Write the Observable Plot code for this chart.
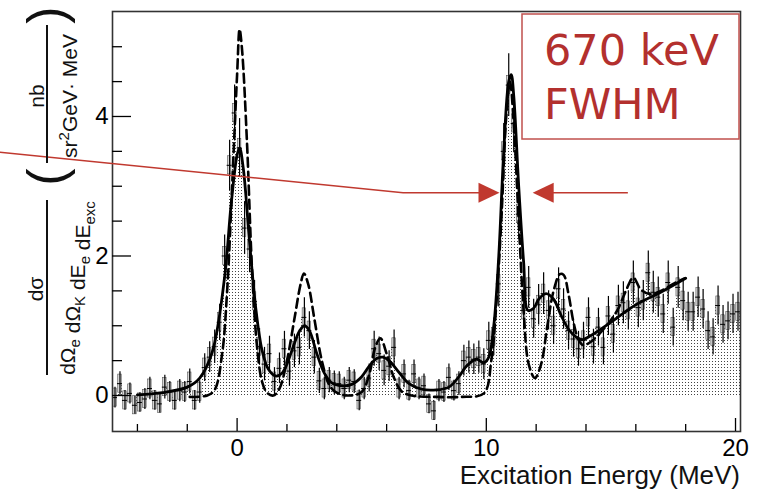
<!DOCTYPE html>
<html><head><meta charset="utf-8">
<script src="https://cdn.jsdelivr.net/npm/d3@7"></script>
<script src="https://cdn.jsdelivr.net/npm/@observablehq/plot@0.6"></script>
<style>
body{margin:0;background:#fff;}
#chart{width:760px;height:495px;}
</style>
</head><body><div id="chart"></div>
<script>
// ---- histogram (0.2 MeV bins starting at -5 MeV) ----
const binStart = -5;
const binWidth = 0.2;
const counts = [
 -0.03, 0.17, -0.07, 0.03, -0.14, -0.10, -0.05, 0.10, -0.07, -0.12,
  0.12, 0.05, -0.07, 0.07, 0.05, 0.20, -0.07, 0.05, 0.40, 0.55,
  0.70, 1.05, 2.00, 3.30, 4.05, 3.55, 2.40, 2.10, 1.35, 0.70,
  0.45, 0.60, 0.20, 0.39, 0.67, 0.35, 0.64, 0.69, 1.12, 0.93,
  0.55, 0.21, 0.10, 0.22, 0.18, 0.17, 0.10, 0.22, 0.20, -0.07,
  0.10, 0.25, 0.67, 0.60, 0.36, 0.42, 0.69, 0.10, 0.31, 0.07,
  0.31, 0.10, 0.14, -0.12, -0.22, 0.07, 0.05, 0.26, 0.07, 0.17,
  0.50, 0.55, 0.52, 0.55, 0.45, 0.79, 0.84, 1.60, 3.50, 4.45,
  3.90, 2.60, 1.22, 1.55, 1.10, 1.30, 1.46, 1.22, 1.00, 1.53,
  1.24, 0.93, 0.81, 0.67, 0.79, 1.12, 0.70, 0.98, 0.69, 1.14,
  0.88, 1.29, 1.33, 1.22, 1.62, 1.26, 1.36, 1.76, 1.48, 1.41,
  1.17, 1.62, 0.98, 1.55, 1.36, 1.20, 1.20, 1.41, 1.24, 0.93,
  0.84, 1.29, 1.02, 1.07, 1.17, 1.20
];
const errors = [
  0.15,0.17,0.14,0.15,0.13,0.14,0.15,0.16,0.14,0.13,0.17,0.15,0.14,0.16,0.15,0.18,0.14,0.16,
  0.20,0.22,0.24,0.26,
  0.30,0.36,0.40,0.42,0.38,0.34,0.30,
  0.26,0.24,0.25,0.20,0.22,0.25,0.22,0.24,0.25,
  0.28,0.27,0.24,
  0.18,0.16,0.18,0.17,0.17,0.16,0.18,0.17,0.15,0.16,
  0.20,0.25,0.24,0.22,0.22,0.25,
  0.16,0.20,0.15,0.20,0.16,0.17,0.14,0.14,0.16,0.15,0.19,0.15,0.17,
  0.22,0.23,0.22,0.23,0.22,0.26,0.27,
  0.33,0.40,0.45,0.42,0.36,
  0.28,0.30,0.28,0.29,0.30,0.28,0.27,0.30,0.29,0.27,
  0.26,0.25,0.26,0.28,0.25,0.27,0.25,0.28,0.27,0.29,
  0.30,0.28,0.31,0.29,0.29,0.31,0.30,0.29,0.28,0.31,
  0.27,0.30,0.29,0.28,0.28,0.29,0.28,0.27,0.26,0.28,
  0.27,0.27,0.28,0.28
];

// ---- fit (solid) ----
const fitE = [-4.0,-3.0,-2.0,-1.5,-1.0,-0.5,-0.25,0.0,0.1,0.25,0.5,0.75,1.0,1.25,1.55,1.8,2.0,2.25,2.5,2.7,2.9,3.2,3.5,3.8,4.2,4.6,5.0,5.3,5.6,5.85,6.1,6.5,6.9,7.4,8.0,8.5,8.9,9.2,9.6,9.9,10.1,10.3,10.5,10.7,10.9,11.0,11.1,11.3,11.5,11.67,11.9,12.1,12.4,12.7,13.0,13.3,13.6,13.85,14.2,15.0,16.0,17.0,18.0];
const fitV = [0.01,0.04,0.12,0.25,0.62,1.7,2.7,3.45,3.55,3.25,2.2,1.25,0.65,0.38,0.28,0.32,0.45,0.7,0.92,1.0,0.93,0.6,0.32,0.18,0.14,0.16,0.27,0.42,0.53,0.55,0.5,0.33,0.17,0.09,0.08,0.12,0.27,0.42,0.52,0.47,0.55,1.0,2.0,3.5,4.5,4.6,4.3,3.0,1.9,1.22,1.25,1.38,1.46,1.38,1.15,0.95,0.84,0.8,0.86,1.05,1.3,1.48,1.68];

// ---- model (dashed) ----
const modelE = [-1.9,-1.2,-0.9,-0.6,-0.4,-0.2,0.0,0.1,0.2,0.4,0.6,0.8,1.0,1.2,1.45,1.7,2.0,2.3,2.55,2.68,2.85,3.1,3.4,3.7,4.0,4.5,5.0,5.3,5.55,5.75,6.0,6.3,6.6,7.0,8.0,9.0,9.9,10.2,10.4,10.6,10.8,10.95,11.1,11.3,11.5,11.7,11.95,12.2,12.45,12.7,12.95,13.1,13.3,13.5,13.7,13.9,14.3,14.7,15.0,15.3,15.6,15.9,16.2,16.6,17.0,17.5,17.95];
const modelV = [-0.02,0.0,0.08,0.6,1.5,3.0,4.6,5.25,4.95,3.6,1.8,0.7,0.2,0.04,0.0,0.1,0.5,1.1,1.6,1.75,1.6,1.1,0.5,0.15,0.04,0.0,0.05,0.3,0.7,0.82,0.6,0.25,0.06,0.0,-0.02,-0.02,0.03,0.5,1.3,2.5,4.0,4.5,3.9,2.5,1.2,0.45,0.25,0.45,1.0,1.5,1.74,1.73,1.45,1.05,0.8,0.72,0.8,0.95,1.08,1.25,1.5,1.69,1.52,1.45,1.5,1.6,1.68];

// ---- ticks ----
const xMajorTicks = [0, 10, 20];
const xMinorTicks = [-4, -2, 2, 4, 6, 8, 12, 14, 16, 18];
const yMajorTicks = [0, 2, 4];
const yMinorTicks = [0.5, 1, 1.5, 2.5, 3, 3.5, 4.5, 5];

// ---- annotation (in data units) ----
const fwhmText = ["670 keV", "FWHM"];
const arrowLevel = 2.9;
const arrowTipsE = [10.55, 11.88];
const arrowTailE = 15.7;
const pointerStart = [-9.5, 3.48];
const pointerKinkE = 6.68;

const hist = counts.map((v, i) => ({
  x1: binStart + binWidth * i,
  x2: binStart + binWidth * (i + 1),
  E: binStart + binWidth * (i + 0.5),
  v,
  e: errors[i] ?? 0.25
}));
const fit = fitE.map((E, i) => ({E, v: fitV[i]}));
const model = modelE.map((E, i) => ({E, v: modelV[i]}));

const boxHalfW = 0.07, boxHalfH = 0.13;

const chart = Plot.plot({
  width: 760, height: 495,
  marginLeft: 112, marginRight: 20, marginTop: 11, marginBottom: 64,
  style: {fontFamily: "'Liberation Sans', Arial, sans-serif", background: "#fff", color: "#000"},
  x: {domain: [-5, 20.2]},
  y: {domain: [-0.516, 5.505]},
  marks: [
    Plot.rectY(hist, {x1: "x1", x2: "x2", y: "v", fill: "url(#stip)", shapeRendering: "crispEdges"}),
    Plot.rect(hist, {x1: d => d.E - boxHalfW, x2: d => d.E + boxHalfW, y1: d => d.v - boxHalfH, y2: d => d.v + boxHalfH, fill: "#d8d8d8", stroke: "#555", strokeWidth: 0.6}),
    Plot.ruleX(hist, {x: "E", y1: d => d.v - d.e, y2: d => d.v + d.e, stroke: "#000", strokeWidth: 1.2}),
    Plot.ruleY(hist, {y: "v", x1: "x1", x2: "x2", stroke: "#000", strokeWidth: 1}),
    Plot.line(model, {x: "E", y: "v", curve: "catmull-rom", stroke: "#000", strokeWidth: 2.6, strokeDasharray: "9,5"}),
    Plot.line(fit, {x: "E", y: "v", curve: "catmull-rom", stroke: "#000", strokeWidth: 2.8}),
    Plot.frame({stroke: "#333", strokeWidth: 1.6}),
    Plot.axisX(xMajorTicks, {tickSize: -13, fill: "none", label: null, strokeWidth: 1.3}),
    Plot.axisX(xMinorTicks, {tickSize: -7, fill: "none", label: null, strokeWidth: 1.3}),
    Plot.axisX(xMajorTicks, {tickSize: 0, tickPadding: 7, fontSize: 24, label: null, tickFormat: "d"}),
    Plot.axisY(yMajorTicks, {tickSize: -19, fill: "none", label: null, strokeWidth: 1.3}),
    Plot.axisY(yMinorTicks, {tickSize: -10, fill: "none", label: null, strokeWidth: 1.3}),
    Plot.axisY(yMajorTicks, {tickSize: 0, tickPadding: 4, fontSize: 24, label: null, tickFormat: "d"})
  ]
});
document.getElementById("chart").appendChild(chart);

const svg = d3.select(chart);
const defs = svg.insert("defs", ":first-child");
const pat = defs.append("pattern").attr("id", "stip").attr("width", 3).attr("height", 3).attr("patternUnits", "userSpaceOnUse");
pat.append("rect").attr("width", 3).attr("height", 3).attr("fill", "#fff");
pat.append("rect").attr("x", 1).attr("y", 1).attr("width", 1).attr("height", 1).attr("fill", "#444");

const sx = chart.scale("x"), sy = chart.scale("y");
const red = "#c0392f";
const ay = sy.apply(arrowLevel);
const ann = svg.append("g");
// pointer line
ann.append("path")
  .attr("d", `M${sx.apply(pointerStart[0])},${sy.apply(pointerStart[1])}L${sx.apply(pointerKinkE)},${ay}L${sx.apply(arrowTipsE[0]) - 20},${ay}`)
  .attr("fill", "none").attr("stroke", red).attr("stroke-width", 1.6);
const lt = sx.apply(arrowTipsE[0]);
ann.append("path").attr("d", `M${lt},${ay}L${lt - 21},${ay - 10}L${lt - 21},${ay + 10}Z`).attr("fill", red);
const rt = sx.apply(arrowTipsE[1]);
ann.append("path").attr("d", `M${rt},${ay}L${rt + 21},${ay - 10}L${rt + 21},${ay + 10}Z`).attr("fill", red);
ann.append("path").attr("d", `M${rt + 20},${ay}L${sx.apply(arrowTailE)},${ay}`).attr("stroke", red).attr("stroke-width", 1.6);
// box
ann.append("rect").attr("x", 522).attr("y", 14).attr("width", 217).attr("height", 125)
  .attr("fill", "#fff").attr("stroke", "#c0504d").attr("stroke-width", 1.5);
const ft = ann.append("text")
  .attr("x", 544).attr("y", 65)
  .attr("text-anchor", "start")
  .attr("font-family", "'DejaVu Sans', Verdana, sans-serif").attr("font-size", 43)
  .attr("fill", "#b3302e");
fwhmText.forEach((t, i) => ft.append("tspan").attr("x", 544).attr("dy", i === 0 ? 0 : 54).text(t));

// y-axis title
const yl = svg.append("g").attr("font-family", "'Liberation Sans', Arial, sans-serif").attr("fill", "#111");
function rot(x, y) { return `translate(${x},${y}) rotate(-90)`; }
yl.append("text").attr("transform", rot(43, 289)).attr("text-anchor", "middle").attr("font-size", 21).text("dσ");
const den = yl.append("text").attr("transform", rot(75, 288)).attr("text-anchor", "middle").attr("font-size", 21);
[["dΩ", "e"], [" dΩ", "K"], [" dE", "e"], [" dE", "exc"]].forEach(([a, b]) => {
  den.append("tspan").text(a);
  den.append("tspan").attr("font-size", 15).attr("dy", 5).text(b);
  den.append("tspan").attr("dy", -5).text("");
});
yl.append("line").attr("x1", 47).attr("x2", 47).attr("y1", 200).attr("y2", 375).attr("stroke", "#111").attr("stroke-width", 2);
yl.append("text").attr("transform", rot(44, 96)).attr("text-anchor", "middle").attr("font-size", 21).text("nb");
yl.append("line").attr("x1", 47).attr("x2", 47).attr("y1", 25).attr("y2", 163).attr("stroke", "#111").attr("stroke-width", 2);
const un = yl.append("text").attr("transform", rot(77, 96)).attr("text-anchor", "middle").attr("font-size", 21);
un.append("tspan").text("sr");
un.append("tspan").attr("font-size", 15).attr("dy", -8).text("2");
un.append("tspan").attr("dy", 8).text("GeV· MeV");
yl.append("text").attr("transform", rot(64, 177)).attr("text-anchor", "middle").attr("font-size", 52).attr("font-weight", 300).text("(");
yl.append("text").attr("transform", rot(64, 15)).attr("text-anchor", "middle").attr("font-size", 52).attr("font-weight", 300).text(")");

// x-axis title
svg.append("text").attr("x", 740).attr("y", 484).attr("text-anchor", "end")
  .attr("font-family", "'Liberation Sans', Arial, sans-serif").attr("font-size", 26).attr("fill", "#111")
  .text("Excitation Energy (MeV)");
</script>
</body></html>
